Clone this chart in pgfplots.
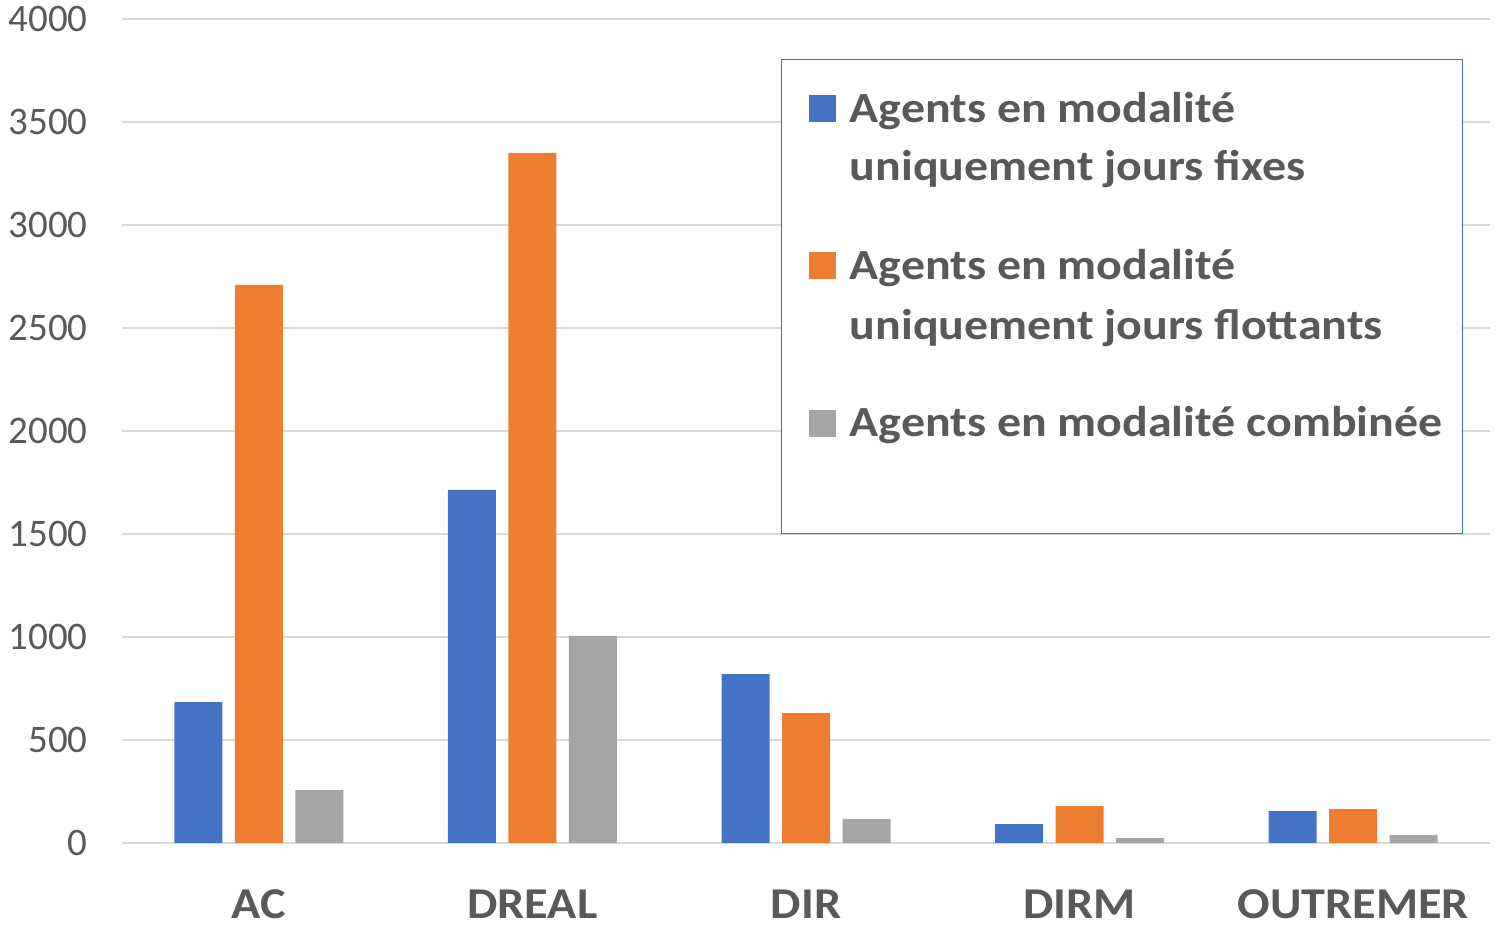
\documentclass[border=0pt]{standalone}
\usepackage{fontspec}
\setmainfont{Carlito}
\newfontfamily\legfont[FakeStretch=1.115]{Carlito}
\newfontfamily\catfont[FakeStretch=1.095]{Carlito}
\usepackage{pgfplots}
\pgfplotsset{compat=1.18}
\definecolor{cblue}{HTML}{4472C4}
\definecolor{corange}{HTML}{ED7D31}
\definecolor{cgray}{HTML}{A5A5A5}
\definecolor{cgrid}{HTML}{D9D9D9}
\definecolor{ctext}{HTML}{595959}
\newcommand\lstrut[1]{\rule{0pt}{#1}}
\begin{document}
\begin{tikzpicture}
\begin{axis}[
  at={(0,0)}, anchor=south west,
  scale only axis, width=684pt, height=412pt,
  xmin=-0.5, xmax=4.5, ymin=0, ymax=4000,
  ybar, bar width=24pt,
  xtick={0,1,2,3,4}, xticklabels={AC,DREAL,DIR,DIRM,OUTREMER},
  ytick={0,500,...,4000},
  ymajorgrids, grid style={draw=cgrid, line width=0.75pt},
  axis line style={draw=none},
  major tick length=0pt,
  tick label style={color=ctext},
  /pgf/number format/assume math mode=true,
  /pgf/number format/1000 sep={},
  scaled y ticks=false,
  yticklabel style={font=\fontsize{19.5}{23}\selectfont, anchor=east, inner sep=0pt, xshift=-17pt},
  xticklabel style={font=\catfont\bfseries\fontsize{22}{27}\selectfont, anchor=base, inner sep=0pt, yshift=-38pt},
  legend style={at={(rel axis cs:0.4817,0.9515)}, anchor=north west,
    draw=cblue, line width=0.75pt, fill=white,
    inner xsep=10pt, inner ysep=14pt,
    font=\legfont\bfseries\fontsize{21.5}{29}\selectfont, text=ctext,
    nodes={inner sep=0pt},
    column sep=7pt, row sep=6pt,
    cells={anchor=base west}},
  legend image code/.code={\path (0pt,0pt); \fill[#1, draw=none] (3.5pt,0pt) rectangle (17pt,13.5pt);},
]
\addplot[fill=cblue, draw=none, bar shift=-30.25pt] coordinates {(0,684) (1,1714) (2,820) (3,92) (4,155)};
\addlegendentry{\lstrut{17.4pt}Agents en modalité}
\addlegendimage{empty legend}
\addlegendentry{\lstrut{21.5pt}uniquement jours fixes}
\addplot[fill=corange, draw=none, bar shift=0pt] coordinates {(0,2709) (1,3350) (2,631) (3,180) (4,165)};
\addlegendentry{\lstrut{41.85pt}Agents en modalité}
\addlegendimage{empty legend}
\addlegendentry{\lstrut{22.5pt}uniquement jours flottants}
\addplot[fill=cgray, draw=none, bar shift=30.25pt] coordinates {(0,257) (1,1005) (2,117) (3,24) (4,39)};
\addlegendentry{\lstrut{41.25pt}Agents en modalité combinée}
\addlegendimage{empty legend}
\addlegendentry{\lstrut{25.5pt}}
\end{axis}
\pgfresetboundingbox
\path[use as bounding box] (-61pt,-43.5pt) rectangle (688.5pt,421.5pt);
\end{tikzpicture}
\end{document}
